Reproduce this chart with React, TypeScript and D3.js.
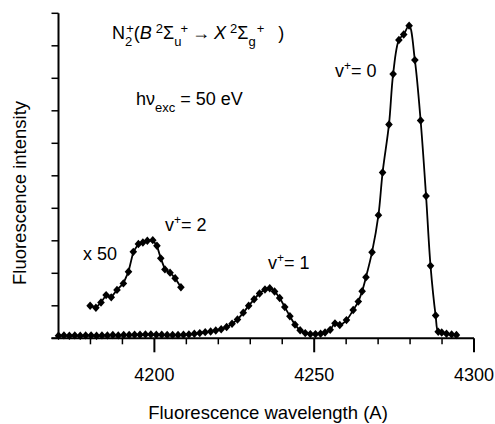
import React from 'react'
import * as d3 from 'd3'

// main spectrum (wavelength in A, intensity in tick units)
const wavelengths = [
  4170.0, 4171.7, 4173.4, 4175.1, 4176.8, 4178.5, 4180.2, 4181.9, 4183.6, 4185.3,
  4187.0, 4188.7, 4190.4, 4192.1, 4193.8, 4195.5, 4197.2, 4198.9, 4200.6, 4202.3,
  4204.0, 4205.7, 4207.4, 4209.1, 4210.8, 4212.5, 4214.2, 4215.9, 4217.6, 4219.2,
  4220.9, 4222.6, 4224.3, 4226.0, 4227.8, 4229.5, 4231.2, 4232.9, 4234.6, 4236.1,
  4237.6, 4239.2, 4240.8, 4242.4, 4244.0, 4245.6, 4247.2, 4248.8, 4250.4, 4252.0,
  4253.4, 4255.0, 4256.5, 4258.0, 4260.1, 4262.2, 4263.8, 4265.0, 4266.2, 4268.1,
  4270.1, 4271.4, 4273.4, 4274.7, 4276.5, 4278.0, 4279.7, 4281.5, 4283.3, 4285.0,
  4286.4, 4288.0, 4288.8, 4289.9, 4291.4, 4293.0, 4294.5,
]
const intensities = [
  0.08, 0.09, 0.08, 0.09, 0.08, 0.09, 0.09, 0.08, 0.09, 0.09,
  0.10, 0.09, 0.10, 0.10, 0.11, 0.11, 0.12, 0.12, 0.11, 0.11,
  0.10, 0.10, 0.10, 0.11, 0.12, 0.14, 0.16, 0.19, 0.21, 0.24,
  0.28, 0.35, 0.45, 0.58, 0.79, 1.00, 1.20, 1.38, 1.50, 1.54,
  1.44, 1.24, 0.96, 0.68, 0.42, 0.25, 0.16, 0.13, 0.13, 0.14,
  0.18, 0.26, 0.46, 0.41, 0.56, 0.87, 1.13, 1.45, 1.88, 2.65,
  3.79, 5.10, 6.58, 8.13, 9.18, 9.35, 9.62, 8.56, 6.70, 4.38,
  2.23, 0.70, 0.20, 0.18, 0.14, 0.12, 0.10,
]

// v+=2 band, scaled x 50
const wavelengthsX50 = [
  4179.9, 4181.7, 4183.3, 4184.9, 4186.5, 4188.3, 4190.3, 4191.9, 4193.4, 4195.0,
  4196.4, 4197.8, 4199.5, 4200.8, 4202.0, 4203.3, 4204.9, 4206.5, 4208.3,
]
const intensitiesX50 = [
  1.00, 0.94, 1.10, 1.33, 1.26, 1.49, 1.69, 2.05, 2.66, 2.90,
  2.95, 3.00, 3.02, 2.85, 2.46, 2.12, 2.02, 1.85, 1.57,
]

const majorTicks = [4200, 4250, 4300]
const minorTicks = [4180, 4190, 4210, 4220, 4230, 4240, 4260, 4270, 4280, 4290]
const yTicks = [0, 1, 2, 3, 4, 5, 6, 7, 8, 9, 10]

const W = 495
const H = 424
const left = 58.5
const right = 474
const top = 13.3
const bottom = 338.3

const font = 'Liberation Sans, Arial, sans-serif'

// v+ = n label
function VLabel({ x, y, n }: { x: number; y: number; n: number }) {
  return (
    <text x={x} y={y} fontSize={18}>
      v<tspan dy={-7} fontSize={12}>+</tspan><tspan dy={7}>= {n}</tspan>
    </text>
  )
}

export default function App() {
  const x = d3.scaleLinear().domain([4170, 4300]).range([left, right])
  const y = d3.scaleLinear().domain([0, 10]).range([bottom, top])

  const main = wavelengths.map((w, i) => [w, intensities[i]] as [number, number])
  const inset = wavelengthsX50.map((w, i) => [w, intensitiesX50[i]] as [number, number])

  const line = d3.line<[number, number]>()
    .x(d => x(d[0]))
    .y(d => y(d[1]))
    .curve(d3.curveCatmullRom)
  const insetLine = d3.line<[number, number]>()
    .x(d => x(d[0]))
    .y(d => y(d[1]))

  const diamond = 'M0,-4.2L3.8,0L0,4.2L-3.8,0Z'
  const sub = 7
  const sup = -6

  return (
    <svg width={W} height={H} style={{ position: 'absolute', left: 0, top: 0, background: '#fff' }}
      fontFamily={font}>
      {/* y axis */}
      <line x1={left} x2={left} y1={top} y2={bottom} stroke="#000" strokeWidth={2} />
      {yTicks.map(t => (
        <line key={'y' + t} x1={left - 7} x2={left} y1={y(t)} y2={y(t)} stroke="#000" strokeWidth={1.5} />
      ))}
      {/* x axis */}
      <line x1={left - 7} x2={right} y1={bottom} y2={bottom} stroke="#000" strokeWidth={2} />
      {minorTicks.map(t => (
        <line key={'m' + t} x1={x(t)} x2={x(t)} y1={bottom} y2={bottom + 6} stroke="#000" strokeWidth={1.5} />
      ))}
      {majorTicks.map(t => (
        <g key={'M' + t}>
          <line x1={x(t)} x2={x(t)} y1={bottom} y2={bottom + 14} stroke="#000" strokeWidth={2} />
          <text x={x(t)} y={381} textAnchor="middle" fontSize={18}>{t}</text>
        </g>
      ))}
      <text x={268} y={419} textAnchor="middle" fontSize={18.5}>Fluorescence wavelength (A)</text>
      <text transform="translate(26,193) rotate(-90)" textAnchor="middle" fontSize={18.5}>Fluorescence intensity</text>

      {/* curves */}
      <path d={line(main) ?? ''} fill="none" stroke="#000" strokeWidth={1.8} />
      <path d={insetLine(inset) ?? ''} fill="none" stroke="#000" strokeWidth={1.8} />
      {main.map((d, i) => (
        <path key={'p' + i} d={diamond} transform={`translate(${x(d[0])},${y(d[1])})`} fill="#000" />
      ))}
      {inset.map((d, i) => (
        <path key={'q' + i} d={diamond} transform={`translate(${x(d[0])},${y(d[1])})`} fill="#000" />
      ))}

      {/* title */}
      <text x={112} y={39} fontSize={18}>
        N
        <tspan dy={sub} fontSize={13}>2</tspan>
        <tspan dx={-6} dy={-sub + sup} fontSize={13}>+</tspan>
        <tspan dy={-sup}>(</tspan>
        <tspan fontStyle="italic">B</tspan>
        <tspan dx={4} dy={sup} fontSize={13}>2</tspan>
        <tspan dy={-sup}>Σ</tspan>
        <tspan dy={sub} fontSize={13}>u</tspan>
        <tspan dx={-1} dy={-sub + sup} fontSize={13}>+</tspan>
        <tspan dx={4} dy={-sup}>→</tspan>
        <tspan dx={4} fontStyle="italic">X</tspan>
        <tspan dx={4} dy={sup} fontSize={13}>2</tspan>
        <tspan dy={-sup}>Σ</tspan>
        <tspan dy={sub} fontSize={13}>g</tspan>
        <tspan dx={1} dy={-sub + sup} fontSize={13}>+</tspan>
        <tspan dx={14} dy={-sup}>)</tspan>
      </text>
      <text x={136} y={105} fontSize={18}>
        hν<tspan dy={7} fontSize={13}>exc</tspan><tspan dx={5} dy={-7}>= 50 eV</tspan>
      </text>

      {/* band labels */}
      <VLabel x={335} y={77} n={0} />
      <VLabel x={268} y={269} n={1} />
      <VLabel x={165} y={231} n={2} />
      <text x={83} y={260} fontSize={18}>x 50</text>
    </svg>
  )
}
